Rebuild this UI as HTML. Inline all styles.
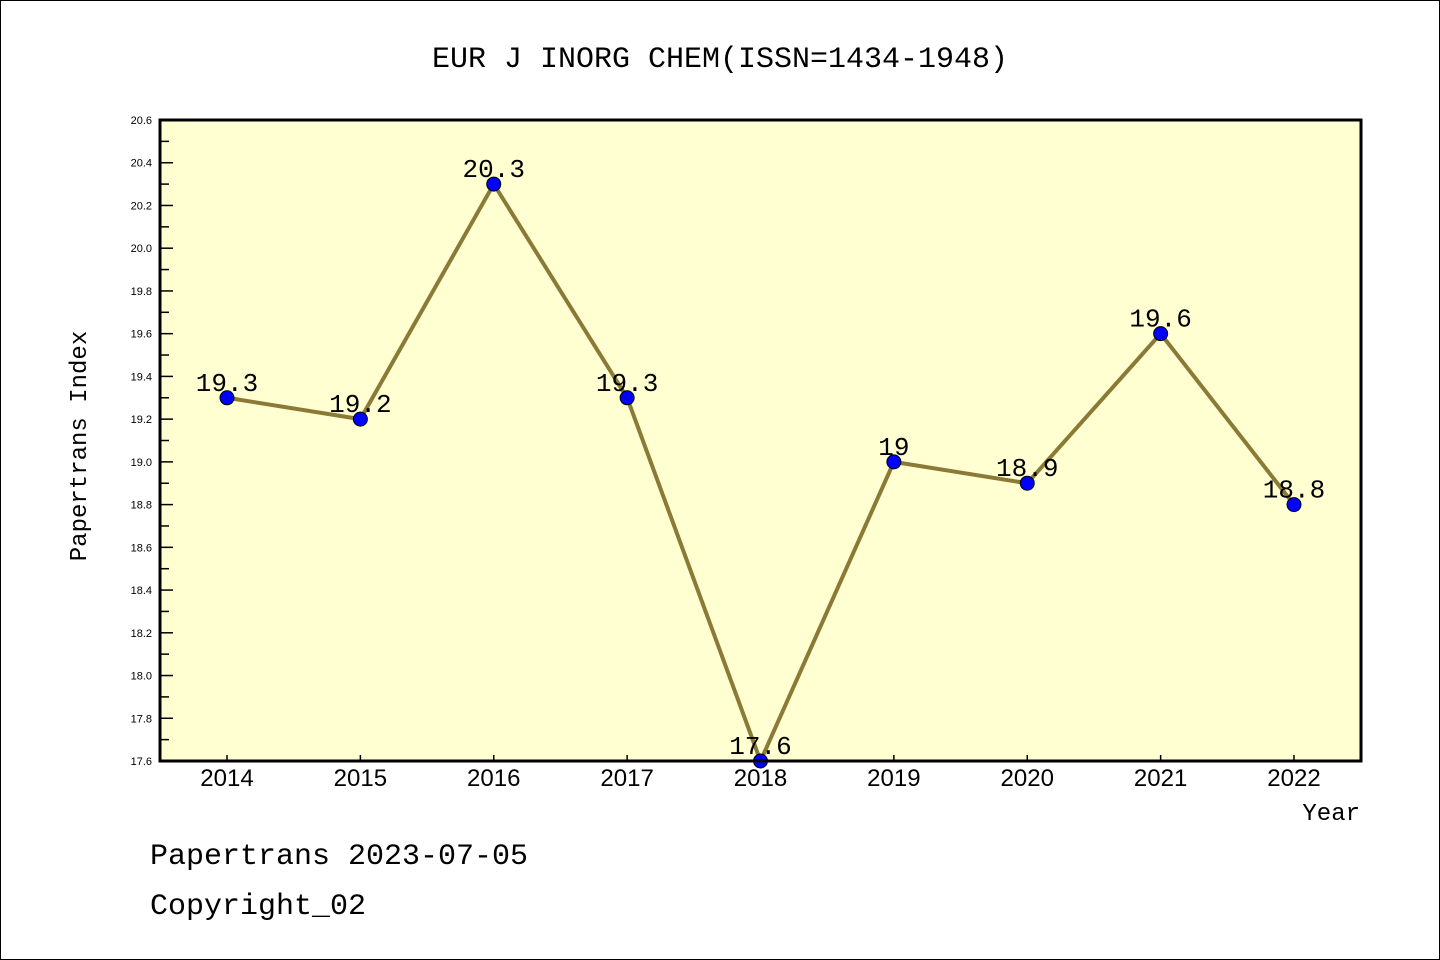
<!DOCTYPE html>
<html><head><meta charset="utf-8"><style>
body{margin:0;background:#fff;}
svg{display:block;font-family:"Liberation Mono","DejaVu Sans Mono",monospace;}
</style></head><body>
<svg id="chart" width="1440" height="960">
<rect x="0.5" y="0.5" width="1439" height="959" fill="#fff" stroke="#000"/>
<text x="720" y="67" font-size="30" text-anchor="middle">EUR J INORG CHEM(ISSN=1434-1948)</text>
<rect x="160" y="120" width="1201" height="641" fill="#ffffd2"/>
<g id="axes"></g>
<g id="series"></g>
<rect x="160" y="120" width="1201" height="641" fill="none" stroke="#000" stroke-width="3"/>
<text x="86" y="446" font-size="24" text-anchor="middle" transform="rotate(-90 86 446)">Papertrans Index</text>
<text x="1360" y="820" font-size="24" text-anchor="end">Year</text>
<text x="150" y="864" font-size="30">Papertrans 2023-07-05</text>
<text x="150" y="914" font-size="30">Copyright_02</text>
</svg>
<script>
const years=["2014","2015","2016","2017","2018","2019","2020","2021","2022"];
const values=[19.3,19.2,20.3,19.3,17.6,19.0,18.9,19.6,18.8];
const valueLabels=["19.3","19.2","20.3","19.3","17.6","19","18.9","19.6","18.8"];
const yTicks=["17.6","17.8","18.0","18.2","18.4","18.6","18.8","19.0","19.2","19.4","19.6","19.8","20.0","20.2","20.4","20.6"];
const NS="http://www.w3.org/2000/svg";
const yMin=17.6,yMax=20.6,yTop=120,yBottom=761;
const yScale=v=>yBottom-(v-yMin)/(yMax-yMin)*(yBottom-yTop);
const xScale=i=>227+i*133.375;
function mk(t,a,p){const e=document.createElementNS(NS,t);for(const k in a)e.setAttribute(k,a[k]);p.appendChild(e);return e;}
const axesG=document.getElementById('axes'),serG=document.getElementById('series');
yTicks.forEach((t,i)=>{
  const v=parseFloat(t),yy=yScale(v);
  const l=mk('line',{x1:160,x2:173,y1:yy,y2:yy,stroke:'#000','stroke-width':1.5},axesG);
  
  
  const tx=mk('text',{x:152,y:yy+4,'font-size':11,'text-anchor':'end','font-family':'Liberation Sans, sans-serif'},axesG);
  tx.textContent=t;
  
  
  if(i<yTicks.length-1){const ym=yScale(v+0.1);
    const m=mk('line',{x1:160,x2:169,y1:ym,y2:ym,stroke:'#000','stroke-width':1.5},axesG);
    
    }
});
years.forEach((t,i)=>{
  const l=mk('line',{x1:xScale(i),x2:xScale(i),y1:761,y2:755,stroke:'#000','stroke-width':1.5},axesG);
  
  
  const tx=mk('text',{x:xScale(i),y:786,'font-size':24,'text-anchor':'middle','font-family':'Liberation Sans, sans-serif'},axesG);
  tx.textContent=t;
  
  
});
const pl=mk('polyline',{points:values.map((v,i)=>xScale(i)+','+yScale(v)).join(' '),fill:'none',stroke:'#8b7a35','stroke-width':4},serG);


values.forEach((v,i)=>{
  const c=mk('circle',{cx:xScale(i),cy:yScale(v),r:7,fill:'#0000ff',stroke:'#000','stroke-width':1},serG);
  
  
  const t=mk('text',{x:xScale(i),y:yScale(v)-7,'font-size':26,'text-anchor':'middle'},serG);
  t.textContent=valueLabels[i];
  
  
});
</script>
</body></html>
